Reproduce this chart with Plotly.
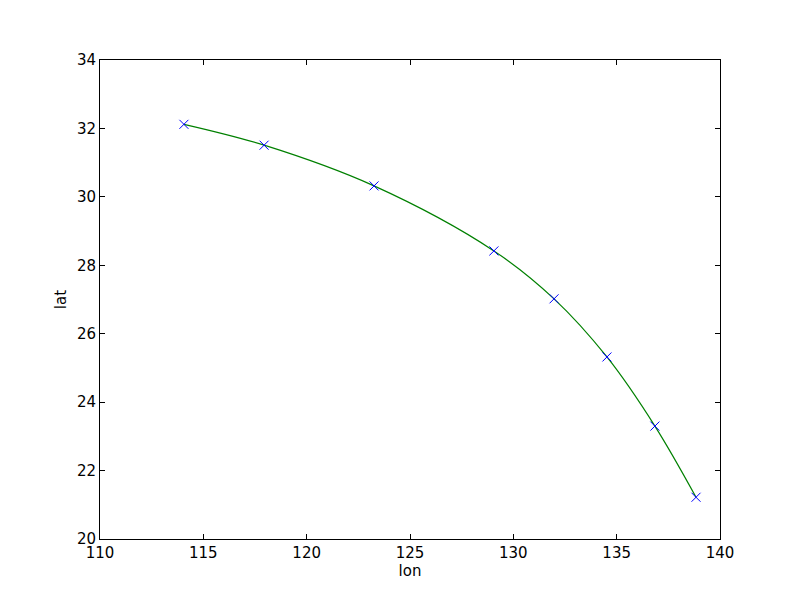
import plotly.graph_objects as go

lon = [114.06, 117.94, 123.26, 129.06, 131.97, 134.53, 136.85, 138.84]
lat = [32.12, 31.51, 30.32, 28.42, 27.02, 25.32, 23.30, 21.22]

x_ticks = [110, 115, 120, 125, 130, 135, 140]
y_ticks = [20, 22, 24, 26, 28, 30, 32, 34]

fig = go.Figure()
fig.add_trace(go.Scatter(
    x=lon, y=lat, mode="lines", line=dict(color="green", width=1.2, shape="spline", smoothing=1.0),
    hoverinfo="skip", showlegend=False))
fig.add_trace(go.Scatter(
    x=lon, y=lat, mode="markers",
    marker=dict(symbol="x-thin", size=9, line=dict(color="blue", width=1)),
    showlegend=False))

font = dict(family="DejaVu Sans", size=15, color="black")
axis_common = dict(showgrid=False, zeroline=False, showline=True, linecolor="black", linewidth=1,
                   mirror="ticks", ticks="inside", ticklen=5, tickcolor="black", tickwidth=1,
                   tickfont=font)
fig.update_xaxes(range=[110, 140], tickvals=x_ticks, ticktext=[str(v) for v in x_ticks],
                 title=dict(text="lon", font=font, standoff=4), **axis_common)
fig.update_yaxes(range=[20, 34], tickvals=y_ticks, ticktext=[str(v) for v in y_ticks],
                 title=dict(text="lat", font=font, standoff=6), **axis_common)
fig.update_layout(width=784, height=592, margin=dict(l=92, r=72, t=52, b=61),
                  paper_bgcolor="white", plot_bgcolor="white", font=font)
fig.write_html("out.html")
